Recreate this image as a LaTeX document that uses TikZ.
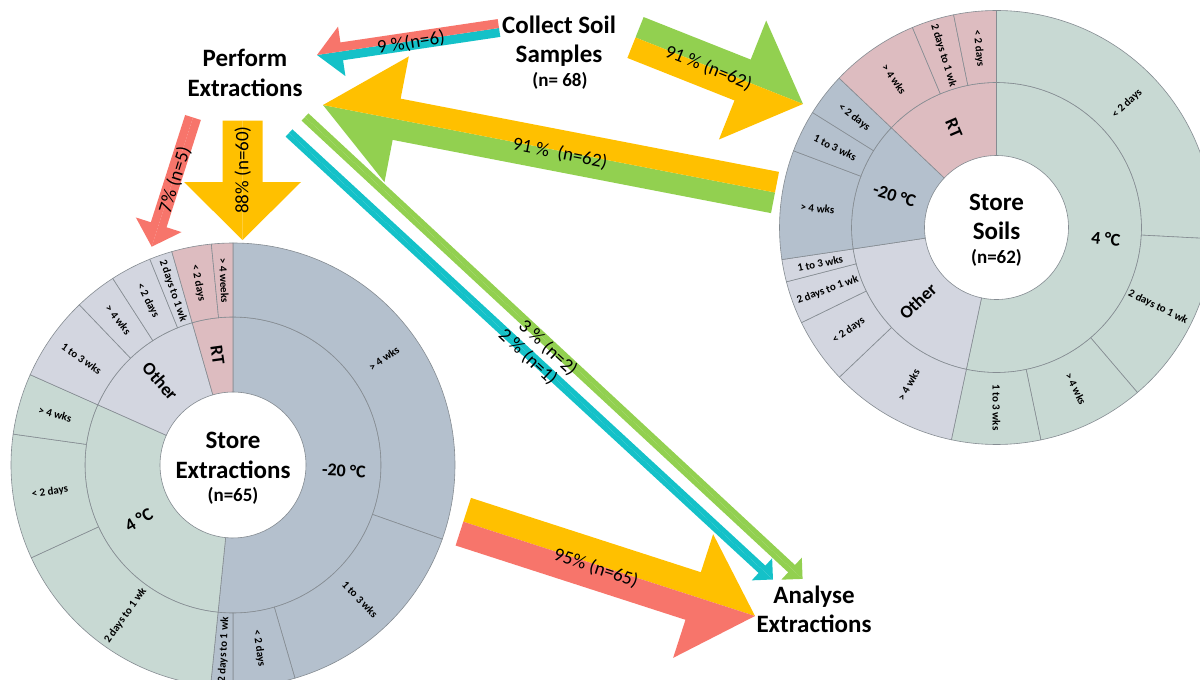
\documentclass[tikz,border=0pt]{standalone}
\usepackage{fontspec}
\setmainfont{Carlito}
\usetikzlibrary{calc}
\definecolor{salmonA}{HTML}{F7756B}
\definecolor{cyanA}{HTML}{14C1C8}
\definecolor{greenA}{HTML}{92D050}
\definecolor{orangeA}{HTML}{FFC000}
\definecolor{cm}{HTML}{B4C0CD}
\definecolor{cf}{HTML}{C8D9D3}
\definecolor{co}{HTML}{D3D6E0}
\definecolor{cr}{HTML}{DDBCC0}
\definecolor{sbl}{HTML}{858C92}
% #1 tail, #2 tip, #3 shaft half width, #4 head half width, #5 head length, #6 left colour, #7 right colour
\newcommand\blockarrow[7]{%
  \path let \p1=(#1), \p2=(#2) in
    \pgfextra{\pgfmathsetmacro\baang{atan2(\y2-\y1,\x2-\x1)}%
      \pgfmathsetmacro\balen{veclen(\x2-\x1,\y2-\y1)}%
      \global\let\baangG\baang\global\let\balenG\balen};
  \begin{scope}[shift={(#1)},rotate=\baangG]
    \fill[#6] (0pt,0pt) -- (0pt,#3) -- ({\balenG pt-#5},#3) -- ({\balenG pt-#5},#4) -- (\balenG pt,0pt) -- cycle;
    \fill[#7] (0pt,0pt) -- (0pt,-#3) -- ({\balenG pt-#5},-#3) -- ({\balenG pt-#5},-#4) -- (\balenG pt,0pt) -- cycle;
  \end{scope}}
% #1 inner r, #2 outer r, #3 start angle, #4 end angle, #5 colour
\newcommand\sbseg[5]{\filldraw[fill=#5,draw=sbl,line width=0.6pt] (#3:#1) -- (#3:#2) arc[start angle=#3,end angle=#4,radius=#2] -- (#4:#1) arc[start angle=#4,end angle=#3,radius=#1] -- cycle;}
\tikzset{
  bigt/.style={font=\fontsize{25}{30}\selectfont\bfseries, inner sep=0pt, anchor=base},
  nt/.style={font=\fontsize{19}{22}\selectfont\bfseries, inner sep=0pt, anchor=base},
  alab/.style={font=\fontsize{19}{22}\selectfont, inner sep=0pt},
  olab/.style={font=\fontsize{11}{13}\selectfont\bfseries, inner sep=0pt},
  ilab/.style={font=\fontsize{18}{21}\selectfont\bfseries, inner sep=0pt},
}
\begin{document}
\begin{tikzpicture}[x=1pt,y=1pt]
\useasboundingbox (0,0) rectangle (1200,-680);
\clip (0,0) rectangle (1200,-680);
\fill[white] (0,0) rectangle (1200,-680);

% ---------- left sunburst: Store Extractions ----------
\begin{scope}[shift={(233,-465)}]
 \sbseg{73}{148}{-95.8}{90}{cm}
 \sbseg{73}{148}{156}{264.2}{cf}
 \sbseg{73}{148}{106}{156}{co}
 \sbseg{73}{148}{90}{106}{cr}
 \sbseg{148}{222}{-19.5}{90}{cm}
 \sbseg{148}{222}{-73.8}{-19.5}{cm}
 \sbseg{148}{222}{-90}{-73.8}{cm}
 \sbseg{148}{222}{-95.8}{-90}{cm}
 \sbseg{148}{222}{204.7}{264.2}{cf}
 \sbseg{148}{222}{172}{204.7}{cf}
 \sbseg{148}{222}{156}{172}{cf}
 \sbseg{148}{222}{133.8}{156}{co}
 \sbseg{148}{222}{122.8}{133.8}{co}
 \sbseg{148}{222}{112}{122.8}{co}
 \sbseg{148}{222}{106}{112}{co}
 \sbseg{148}{222}{95.6}{106}{cr}
 \sbseg{148}{222}{90}{95.6}{cr}
 \node[olab,rotate=35.25] (le1) at (35.25:185) {> 4 wks};
 \node[olab,rotate=-46.65] (le2) at (-46.65:185) {1 to 3 wks};
 \node[olab,rotate=-81.9] (le3) at (-81.9:185) {< 2 days};
 \node[olab,rotate=87.1] (le4) at (-92.9:185) {2 days to 1 wk};
 \node[olab,rotate=54.45] (le5) at (234.45:185) {2 days to 1 wk};
 \node[olab,rotate=8.35] (le6) at (188.35:185) {< 2 days};
 \node[olab,rotate=-16] (le7) at (164:185) {> 4 wks};
 \node[olab,rotate=-35.1] (le8) at (144.9:185) {1 to 3 wks};
 \node[olab,rotate=-51.7] (le9) at (128.3:185) {> 4 wks};
 \node[olab,rotate=-62.6] (le10) at (117.4:185) {< 2 days};
 \node[olab,rotate=-71] (le11) at (109:184) {2 days to 1 wk};
 \node[olab,rotate=-79.2] (le12) at (100.8:185) {< 2 days};
 \node[olab,rotate=-87.2] (le13) at (92.8:185) {> 4 weeks};
 \node[ilab,rotate=-2.9] (li1) at (-2.9:111) {-20 °C};
 \node[ilab,rotate=30.1] (li2) at (210.1:109) {4 °C};
 \node[ilab,rotate=-49] (li3) at (131:111) {Other};
 \node[ilab,rotate=-82] (li4) at (98:111) {RT};
\end{scope}

% ---------- right sunburst: Store Soils ----------
\begin{scope}[shift={(996.5,-227.5)}]
 \sbseg{72}{145}{-102}{90}{cf}
 \sbseg{72}{145}{188.5}{258}{co}
 \sbseg{72}{145}{136.5}{188.5}{cm}
 \sbseg{72}{145}{90}{136.5}{cr}
 \sbseg{145}{217}{-3}{90}{cf}
 \sbseg{145}{217}{-49.5}{-3}{cf}
 \sbseg{145}{217}{-78.2}{-49.5}{cf}
 \sbseg{145}{217}{-102}{-78.2}{cf}
 \sbseg{145}{217}{223.6}{258}{co}
 \sbseg{145}{217}{206}{223.6}{co}
 \sbseg{145}{217}{194.5}{206}{co}
 \sbseg{145}{217}{188.5}{194.5}{co}
 \sbseg{145}{217}{159.3}{188.5}{cm}
 \sbseg{145}{217}{148}{159.3}{cm}
 \sbseg{145}{217}{136.5}{148}{cm}
 \sbseg{145}{217}{112.8}{136.5}{cr}
 \sbseg{145}{217}{101.4}{112.8}{cr}
 \sbseg{145}{217}{90}{101.4}{cr}
 \node[olab,rotate=43.5] (re1) at (43.5:180) {< 2 days};
 \node[olab,rotate=-26.25] (re2) at (-26.25:180) {2 days to 1 wk};
 \node[olab,rotate=-63.85] (re3) at (-63.85:180) {> 4 wks};
 \node[olab,rotate=-90] (re4) at (-90:180) {1 to 3 wks};
 \node[olab,rotate=60.8] (re5) at (240.8:180) {> 4 wks};
 \node[olab,rotate=34.8] (re6) at (214.8:180) {< 2 days};
 \node[olab,rotate=20.25] (re7) at (200.25:180) {2 days to 1 wk};
 \node[olab,rotate=11.5] (re8) at (191.5:180) {1 to 3 wks};
 \node[olab,rotate=-6.1] (re9) at (173.9:180) {> 4 wks};
 \node[olab,rotate=-26.35] (re10) at (153.65:180) {1 to 3 wks};
 \node[olab,rotate=-37.75] (re11) at (142.25:180) {< 2 days};
 \node[olab,rotate=-55.35] (re12) at (124.65:180) {> 4 wks};
 \node[olab,rotate=-72.9] (re13) at (107.1:180) {2 days to 1 wk};
 \node[olab,rotate=-84.3] (re14) at (95.7:180) {< 2 days};
 \node[ilab,rotate=-6] (ri1) at (-6:110) {4 °C};
 \node[ilab,rotate=43.25] (ri2) at (223.25:108) {Other};
 \node[ilab,rotate=-17.5] (ri3) at (162.5:107) {-20 °C};
 \node[ilab,rotate=-66.75] (ri4) at (113.25:108) {RT};
\end{scope}

% ---------- arrow end points ----------
\coordinate (aAt) at (499,-28);     \coordinate (aAh) at (317,-55);
\coordinate (aBt) at (635.5,-37.5); \coordinate (aBh) at (803,-104);
\coordinate (aCt) at (775,-192.5);  \coordinate (aCh) at (323,-105);
\coordinate (aDt) at (193,-117.5);  \coordinate (aDh) at (151.7,-246.7);
\coordinate (aEt) at (242.5,-120.7);\coordinate (aEh) at (242.5,-240);
\coordinate (aFt) at (305,-117);    \coordinate (aFh) at (802.7,-579);
\coordinate (aGt) at (289,-133);    \coordinate (aGh) at (773,-579.5);
\coordinate (aHt) at (463.3,-521.7);\coordinate (aHh) at (755,-616);

\blockarrow{aGt}{aGh}{5pt}{15pt}{15pt}{cyanA}{cyanA}
\blockarrow{aFt}{aFh}{5pt}{15pt}{15pt}{greenA}{greenA}
\blockarrow{aCt}{aCh}{21pt}{64pt}{75pt}{greenA}{orangeA}
\blockarrow{aAt}{aAh}{9pt}{25pt}{25pt}{cyanA}{salmonA}
\blockarrow{aBt}{aBh}{22pt}{64pt}{65pt}{greenA}{orangeA}
\blockarrow{aDt}{aDh}{8.25pt}{24pt}{23pt}{salmonA}{salmonA}
\blockarrow{aEt}{aEh}{20pt}{58.5pt}{58pt}{orangeA}{orangeA}
\blockarrow{aHt}{aHh}{25pt}{65pt}{65pt}{orangeA}{salmonA}

% ---------- arrow labels ----------
\node[alab,rotate=8.4] (tA) at (411,-42.5) {9 \%(n=6)};
\node[alab,rotate=-21.7] (tB) at (708.5,-68) {91 \% (n=62)};
\node[alab,rotate=-11] (tC) at (560,-153.5) {91 \%~~(n=62)};
\node[alab,rotate=72.3] (tD) at (175,-180) {7\% (n=5)};
\node[alab,rotate=90] (tE) at (242.7,-170) {88\% (n=60)};
\node[alab,rotate=-42.9] (tF) at (548,-348) {3 \% (n=2)};
\node[alab,rotate=-42.9] (tG) at (528,-357) {2 \% (n=1)};
\node[alab,rotate=-17.9] (tH) at (596,-568) {95\% (n=65)};

% ---------- stage labels ----------
\node[bigt] (pe1) at (245,-66) {Perform};
\node[bigt] (pe2) at (245,-96) {Extractions};
\node[bigt] (cs1) at (559,-33) {Collect Soil};
\node[bigt] (cs2) at (559,-62) {Samples};
\node[nt] (cs3) at (560,-86) {(n= 68)};
\node[bigt] (ae1) at (814,-603) {Analyse};
\node[bigt] (ae2) at (814,-632) {Extractions};
\node[bigt] (se1) at (233,-448) {Store};
\node[bigt] (se2) at (233,-478) {Extractions};
\node[nt] (se3) at (233,-501) {(n=65)};
\node[bigt] (ss1) at (996.5,-210) {Store};
\node[bigt] (ss2) at (996.5,-239) {Soils};
\node[nt] (ss3) at (996.5,-263) {(n=62)};
\end{tikzpicture}
\end{document}
